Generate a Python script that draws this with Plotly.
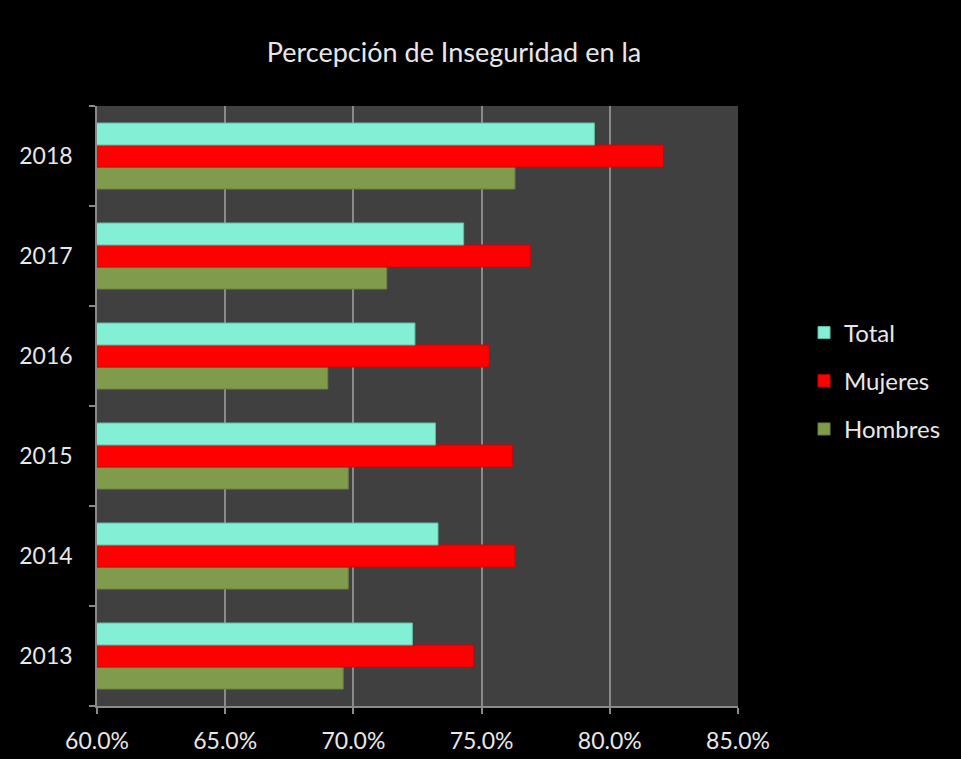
import plotly.graph_objects as go

years = ["2013", "2014", "2015", "2016", "2017", "2018"]
total = [72.3, 73.3, 73.2, 72.4, 74.3, 79.4]
mujeres = [74.7, 76.3, 76.2, 75.3, 76.9, 82.1]
hombres = [69.6, 69.8, 69.8, 69.0, 71.3, 76.3]
x_ticks = [60, 65, 70, 75, 80, 85]
x_labels = ["60.0%", "65.0%", "70.0%", "75.0%", "80.0%", "85.0%"]

FONT = "Lato"
TXT = "#e8e8e8"
GRID = "#8a8a8a"

fig = go.Figure()
series = [
    ("Hombres", hombres, "#7F9B4B", "#6b8440", 3),
    ("Mujeres", mujeres, "#FF0000", "#d00000", 2),
    ("Total", total, "#83F0D5", "#5fbfa8", 1),
]
for name, vals, col, lcol, rank in series:
    fig.add_trace(go.Bar(
        y=years, x=vals, name=name, orientation="h",
        marker=dict(color=col, line=dict(color=lcol, width=1)),
        legendgroup=name, legendrank=rank,
    ))

fig.update_layout(
    width=961, height=759,
    paper_bgcolor="#000000", plot_bgcolor="#404040",
    margin=dict(l=97, r=223, t=106, b=53, pad=0, autoexpand=False),
    barmode="group", bargap=0.34, bargroupgap=0,
    font=dict(family=FONT, color=TXT, size=20),
    title=dict(text="Percepción de Inseguridad en la", x=454/961, xanchor="center",
               y=1-53/759, yanchor="middle", xref="container", yref="container",
               font=dict(family=FONT, size=27, color=TXT)),
    legend=dict(x=1.103, xanchor="left", y=0.5417, yanchor="middle",
                bgcolor="rgba(0,0,0,0)", font=dict(family=FONT, size=24, color=TXT),
                tracegroupgap=14, traceorder="grouped"),
    hovermode=False,
)
fig.update_xaxes(
    range=[60, 85], tickvals=x_ticks, ticktext=x_labels,
    showgrid=True, gridcolor=GRID, gridwidth=1.5,
    showline=True, linecolor=GRID, linewidth=1.5,
    ticks="outside", ticklen=6, tickcolor=GRID, tickwidth=1.5,
    ticklabelstandoff=8, automargin=False,
    zeroline=False, fixedrange=True,
    tickfont=dict(family=FONT, size=23, color=TXT),
)
fig.update_yaxes(
    type="category", categoryorder="array", categoryarray=years,
    showgrid=False, showline=True, linecolor=GRID, linewidth=1.5,
    ticks="outside", tickson="boundaries", ticklen=6, tickcolor=GRID, tickwidth=1.5,
    ticklabelstandoff=18, automargin=False, fixedrange=True,
    tickfont=dict(family=FONT, size=23, color=TXT),
)

fig.write_html(
    "out.html",
    config={"displayModeBar": False},
    post_script="document.body.style.margin='0';document.body.style.background='#000';",
)
